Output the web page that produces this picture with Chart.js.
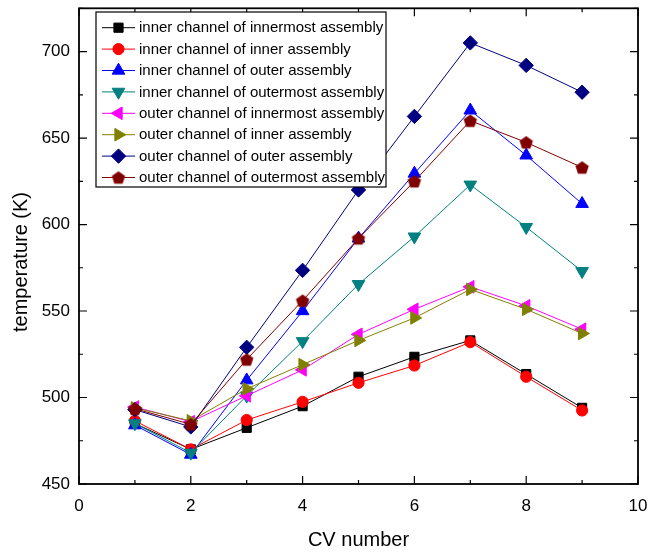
<!DOCTYPE html>
<html lang="en">
<head>
<meta charset="UTF-8">
<title>Channel temperature vs CV number</title>
<script src="https://cdn.jsdelivr.net/npm/chart.js@4.4.1/dist/chart.umd.min.js"></script>
<style>
  html, body { margin: 0; padding: 0; background: #fff; }
  #wrap { width: 649px; height: 558px; position: relative; }
</style>
</head>
<body>
<div id="wrap"><canvas id="tempChart"></canvas></div>
<script>
// CV numbers on the x axis
const cvNumbers = [1, 2, 3, 4, 5, 6, 7, 8, 9];

// Temperatures (K) for each channel
const innerInnermost = [485, 470, 482.5, 495, 512, 523.5, 533, 513.5, 494];
const innerInner = [486.5, 470, 487, 497.5, 508.5, 518.5, 532, 512, 492.5];
const innerOuter = [484, 467, 510, 550, 592, 629.5, 666, 640, 612];
const innerOutermost = [485, 468, 501, 532.5, 565.5, 593, 623, 598.5, 573];
const outerInnermost = [494.5, 486, 501, 516, 536.5, 551, 564, 553, 539.5];
const outerInner = [494, 486.5, 505, 519, 533, 546, 562.5, 551, 537];
const outerOuter = [493, 483, 529, 573.5, 620, 662.5, 705, 692, 676.5];
const outerOutermost = [493.5, 484.5, 522, 556, 592, 625, 660, 647.5, 633];

const seriesLabels = [
  'inner channel of innermost assembly',
  'inner channel of inner assembly',
  'inner channel of outer assembly',
  'inner channel of outermost assembly',
  'outer channel of innermost assembly',
  'outer channel of inner assembly',
  'outer channel of outer assembly',
  'outer channel of outermost assembly'
];

const xTicks = [0, 2, 4, 6, 8, 10];
const yTicks = [450, 500, 550, 600, 650, 700];

const FONT = 'Liberation Sans, Arial, sans-serif';

// pentagon marker as an image point style
function makePentagon(color, r) {
  const size = Math.ceil(r * 2) + 2;
  const c = document.createElement('canvas');
  c.width = size;
  c.height = size;
  const g = c.getContext('2d');
  g.fillStyle = color;
  g.beginPath();
  for (let i = 0; i < 5; i++) {
    const a = -Math.PI / 2 + i * 2 * Math.PI / 5;
    const px = size / 2 + r * Math.cos(a);
    const py = size / 2 + 0.7 + r * Math.sin(a);
    if (i === 0) g.moveTo(px, py); else g.lineTo(px, py);
  }
  g.closePath();
  g.fill();
  return c;
}

const seriesData = [innerInnermost, innerInner, innerOuter, innerOutermost,
  outerInnermost, outerInner, outerOuter, outerOutermost];
const seriesColors = ['#000000', '#ff0000', '#0000ff', '#008080',
  '#ff00ff', '#808000', '#000080', '#800000'];
const markers = [
  { pointStyle: 'rect', rotation: 0, radius: 6.5 },
  { pointStyle: 'circle', rotation: 0, radius: 5.6 },
  { pointStyle: 'triangle', rotation: 0, radius: 7.3 },
  { pointStyle: 'triangle', rotation: 180, radius: 7.3 },
  { pointStyle: 'triangle', rotation: -90, radius: 7.3 },
  { pointStyle: 'triangle', rotation: 90, radius: 7.3 },
  { pointStyle: 'rectRot', rotation: 0, radius: 7.2 },
  { pointStyle: makePentagon('#800000', 7), rotation: 0, radius: 7 }
];

const datasets = seriesData.map((vals, i) => ({
  label: seriesLabels[i],
  data: cvNumbers.map((x, j) => ({ x: x, y: vals[j] })),
  borderColor: seriesColors[i],
  backgroundColor: seriesColors[i],
  borderWidth: 1,
  pointStyle: markers[i].pointStyle,
  pointRotation: markers[i].rotation,
  pointRadius: markers[i].radius,
  pointBorderWidth: 1,
  pointBorderColor: seriesColors[i],
  pointBackgroundColor: seriesColors[i],
  tension: 0,
  order: 7 - i
}));

// box frame with inward ticks on all four sides, plus axis titles
const framePlugin = {
  id: 'frame',
  afterDraw(chart) {
    const { ctx, chartArea: a, scales } = chart;
    ctx.save();
    ctx.strokeStyle = '#000';
    ctx.lineWidth = 1.8;
    ctx.strokeRect(a.left, a.top, a.right - a.left, a.bottom - a.top);
    ctx.lineWidth = 1.2;
    ctx.beginPath();
    for (let v = 0; v <= 10; v += 1) {
      const px = scales.x.getPixelForValue(v);
      const len = v % 2 === 0 ? 8 : 4;
      ctx.moveTo(px, a.bottom); ctx.lineTo(px, a.bottom - len);
      ctx.moveTo(px, a.top); ctx.lineTo(px, a.top + len);
    }
    for (let v = 450; v <= 725; v += 25) {
      const py = scales.y.getPixelForValue(v);
      const len = v % 50 === 0 ? 8 : 4;
      ctx.moveTo(a.left, py); ctx.lineTo(a.left + len, py);
      ctx.moveTo(a.right, py); ctx.lineTo(a.right - len, py);
    }
    ctx.stroke();

    ctx.fillStyle = '#000';
    ctx.font = '20px ' + FONT;
    ctx.textAlign = 'center';
    ctx.textBaseline = 'middle';
    ctx.fillText('CV number', (a.left + a.right) / 2, 540);
    ctx.translate(21, 262);
    ctx.rotate(-Math.PI / 2);
    ctx.fillText('temperature (K)', 0, 0);
    ctx.restore();
  }
};

// boxed legend inside the plot area
const boxLegend = {
  id: 'boxLegend',
  afterDraw(chart) {
    const { ctx } = chart;
    const left = 96, top = 12, width = 290, height = 175;
    const rowH = 21.4, firstRow = 27.7;
    ctx.save();
    ctx.fillStyle = '#fff';
    ctx.fillRect(left, top, width, height);
    ctx.strokeStyle = '#000';
    ctx.lineWidth = 1.2;
    ctx.strokeRect(left, top, width, height);
    chart.data.datasets.forEach((ds, i) => {
      const y = firstRow + i * rowH;
      ctx.strokeStyle = ds.borderColor;
      ctx.lineWidth = 1;
      ctx.beginPath();
      ctx.moveTo(102, y);
      ctx.lineTo(135, y);
      ctx.stroke();
      ctx.fillStyle = ds.pointBackgroundColor;
      ctx.strokeStyle = ds.pointBorderColor;
      Chart.helpers.drawPoint(ctx, {
        pointStyle: ds.pointStyle,
        rotation: ds.pointRotation,
        radius: ds.pointRadius,
        borderWidth: 1
      }, 118.5, y);
      ctx.fillStyle = '#000';
      ctx.font = '15px ' + FONT;
      ctx.textAlign = 'left';
      ctx.textBaseline = 'middle';
      ctx.fillText(ds.label, 139, y + 0.5);
    });
    ctx.restore();
  }
};

new Chart(document.getElementById('tempChart'), {
  type: 'line',
  data: { datasets: datasets },
  options: {
    responsive: true,
    maintainAspectRatio: false,
    devicePixelRatio: 1,
    animation: false,
    layout: { padding: { left: 0, right: 11, top: 7, bottom: 0 } },
    plugins: {
      legend: { display: false },
      tooltip: { enabled: false }
    },
    scales: {
      x: {
        type: 'linear',
        min: 0,
        max: 10,
        afterBuildTicks: s => { s.ticks = xTicks.map(v => ({ value: v })); },
        afterFit: s => {
          s.height = 74;
          s.paddingLeft = 0;
          s.paddingRight = 0;
        },
        grid: { display: false, drawTicks: false },
        border: { display: false },
        ticks: { color: '#000', font: { family: FONT, size: 17 }, padding: 12, maxRotation: 0 }
      },
      y: {
        type: 'linear',
        min: 450,
        max: 725,
        afterBuildTicks: s => { s.ticks = yTicks.map(v => ({ value: v })); },
        afterFit: s => {
          s.width = 79;
          s.paddingTop = 0;
          s.paddingBottom = 0;
        },
        grid: { display: false, drawTicks: false },
        border: { display: false },
        ticks: { color: '#000', font: { family: FONT, size: 17 }, padding: 9 }
      }
    }
  },
  plugins: [framePlugin, boxLegend]
});
</script>
</body>
</html>
